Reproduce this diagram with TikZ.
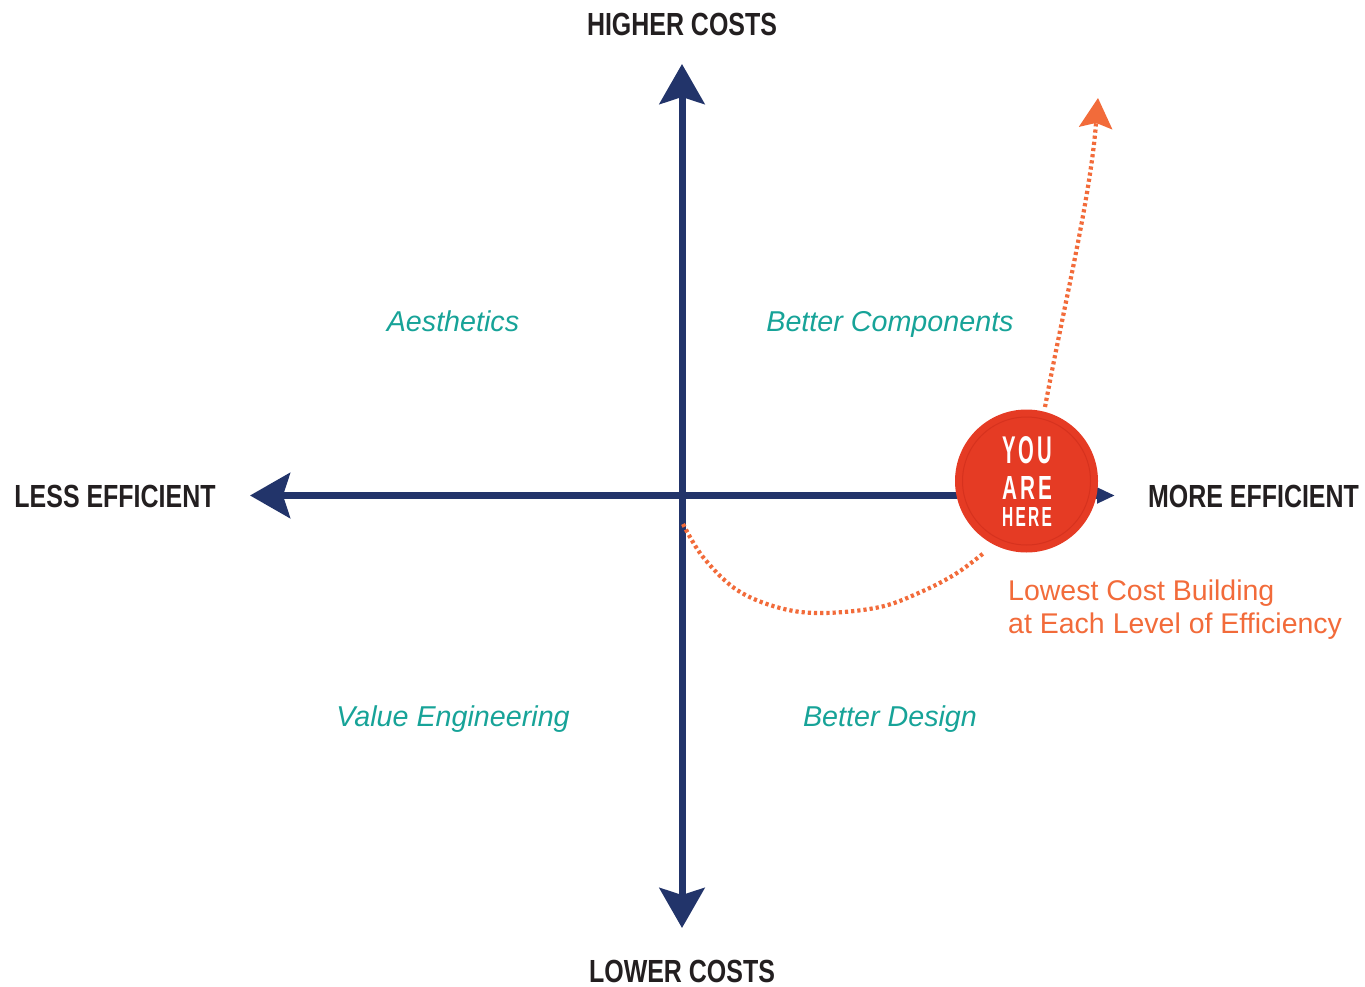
\documentclass[tikz,border=0pt]{standalone}
\usepackage{fontspec}
\usepackage{graphicx}
\setmainfont{Liberation Sans}
\newfontfamily\condfont[FakeStretch=0.78]{Liberation Sans}
\usetikzlibrary{arrows.meta}
\definecolor{navy}{RGB}{34,52,106}
\definecolor{teal}{RGB}{23,163,152}
\definecolor{orangeline}{RGB}{242,107,58}
\definecolor{herered}{RGB}{229,59,36}
\definecolor{hereedge}{RGB}{214,50,30}
\definecolor{labelblack}{RGB}{35,31,32}
\begin{document}
\begin{tikzpicture}[x=1pt,y=-1pt,
  axis/.style={draw=navy,line width=7pt},
  axislabel/.style={font=\condfont\bfseries\fontsize{32}{36}\selectfont,text=labelblack,inner sep=0pt,anchor=base},
  quadlabel/.style={font=\itshape\fontsize{28.7}{34}\selectfont,text=teal,inner sep=0pt,anchor=base},
  notelabel/.style={font=\fontsize{28.5}{33}\selectfont,text=orangeline,inner sep=0pt,anchor=base west},
  dotpath/.style={draw=orangeline,line width=4.2pt,dash pattern=on 3.2pt off 3pt},
  herebox/.style={text=white,inner sep=0pt,anchor=base,font=\bfseries}
]
\useasboundingbox (0,0) rectangle (1365,987);

% axis end points
\coordinate (left) at (250,495.5);
\coordinate (right) at (1115,495.5);
\coordinate (top) at (682,64);
\coordinate (bottom) at (682,928);

% axes
\draw[axis,arrows={Stealth[length=40pt,width=45pt,inset=7pt]-Triangle[length=18pt,width=15pt]}] (left) -- (right);
\draw[axis,arrows={Stealth[length=40pt,width=45pt,inset=7pt]-Stealth[length=40pt,width=45pt,inset=7pt]}] (bottom) -- (top);

% axis labels
\node[axislabel] (higher) at (682,36) {HIGHER COSTS};
\node[axislabel] (lower) at (682,982) {LOWER COSTS};
\node[axislabel] (less) at (115,507) {LESS EFFICIENT};
\node[axislabel] (more) at (1253.5,507) {MORE EFFICIENT};

% quadrant labels
\node[quadlabel] (aes) at (453,331) {Aesthetics};
\node[quadlabel] (comp) at (890,331) {Better Components};
\node[quadlabel] (value) at (453,726) {Value Engineering};
\node[quadlabel] (design) at (890,726) {Better Design};

% lower dotted curve
\draw[dotpath] plot[smooth,tension=0.6] coordinates {(683,524) (703,557) (737,590) (780,608) (823,613) (880,607) (923,591) (957,573) (985,552)};

% upper dotted arrow
\coordinate (ustart) at (1045,407);
\coordinate (utip) at (1098,98);
\draw[dotpath,arrows={-Stealth[length=30pt,width=33pt,inset=5pt]}] (ustart) .. controls (1065,300) and (1090,200) .. (utip);

% you are here
\node[circle,fill=herered,minimum size=143pt,inner sep=0pt] (here) at (1026.5,481) {};
\draw[hereedge,line width=1pt] (here.center) circle (64pt);
\node[herebox] (you) at (1027,463) {\resizebox{50pt}{27pt}{Y\kern1.5pt O\kern1.5pt U}};
\node[herebox] (are) at (1027,499) {\resizebox{50pt}{23pt}{A\kern1.5pt R\kern1.5pt E}};
\node[herebox] (hereword) at (1027,526) {\resizebox{50pt}{19pt}{H\kern1.5pt E\kern1.5pt R\kern1.5pt E}};

% note
\node[notelabel] (note1) at (1008,600) {Lowest Cost Building};
\node[notelabel] (note2) at (1008,633) {at Each Level of Efficiency};
\end{tikzpicture}
\end{document}
